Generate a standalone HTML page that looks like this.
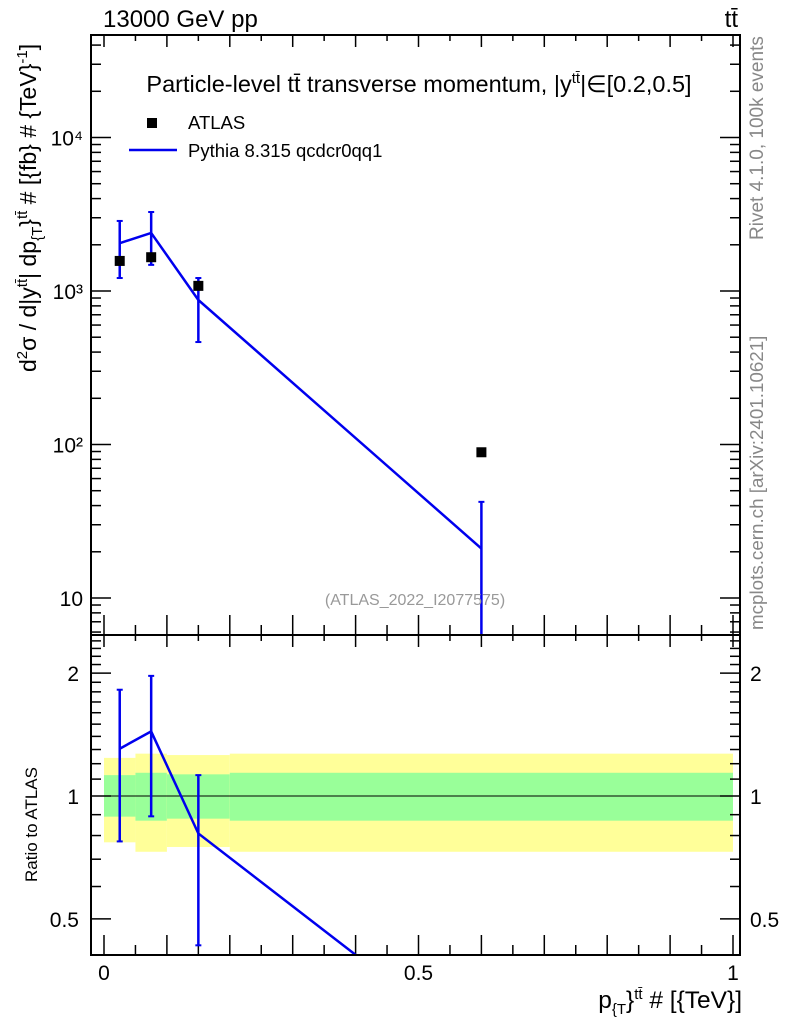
<!DOCTYPE html>
<html><head><meta charset="utf-8"><style>
body{margin:0;background:#fff;}
svg{display:block;font-family:"Liberation Sans",sans-serif;}
</style></head><body>
<svg id="c" width="786" height="1024" viewBox="0 0 786 1024" xmlns="http://www.w3.org/2000/svg">
<g id="bands"></g><g id="grid"></g><g id="marks"></g>
<rect x="91" y="35" width="649" height="600" fill="none" stroke="#000" stroke-width="2"/>
<rect x="91" y="635" width="649" height="320" fill="none" stroke="#000" stroke-width="2"/>
<text x="103" y="27" font-size="24">13000 GeV pp</text>
<text x="738" y="27" font-size="24" text-anchor="end">tt̄</text>
<text x="419" y="92" font-size="23.5" text-anchor="middle">Particle-level tt̄ transverse momentum, |y<tspan font-size="15" dy="-9">tt̄</tspan><tspan dy="9">|∈[0.2,0.5]</tspan></text>
<rect x="147" y="118" width="10" height="10" fill="#000"/>
<text x="188" y="129" font-size="18.5">ATLAS</text>
<line x1="129" y1="150" x2="177" y2="150" stroke="#0000ee" stroke-width="2.5"/>
<text x="188" y="157" font-size="18.5">Pythia 8.315 qcdcr0qq1</text>
<text x="415" y="605" font-size="16" fill="#999" text-anchor="middle">(ATLAS_2022_I2077575)</text>
<text transform="translate(763,240) rotate(-90)" font-size="19" fill="#888">Rivet 4.1.0,  100k events</text>
<text transform="translate(763,630) rotate(-90)" font-size="18.8" fill="#888">mcplots.cern.ch [arXiv:2401.10621]</text>
<text transform="translate(36,372) rotate(-90)" font-size="23">d<tspan font-size="15" dy="-9">2</tspan><tspan dy="9">σ / d|y</tspan><tspan font-size="15" dy="-9">tt̄</tspan><tspan dy="9">| dp</tspan><tspan font-size="15" dy="6">{T</tspan><tspan dy="-6">}</tspan><tspan font-size="15" dy="-9">tt̄</tspan><tspan dy="9"> # [{fb} # {TeV}</tspan><tspan font-size="15" dy="-9">-1</tspan><tspan dy="9">]</tspan></text>
<text transform="translate(37,882) rotate(-90)" font-size="17">Ratio to ATLAS</text>
<text x="742" y="1008" font-size="24.5" text-anchor="end">p<tspan font-size="15" dy="6">{T</tspan><tspan dy="-6">}</tspan><tspan font-size="15" dy="-9">tt̄</tspan><tspan dy="9"> # [{TeV}]</tspan></text>
</svg>
<script>
const binEdges=[0,0.05,0.1,0.2,1.0];
const xCenters=[0.025,0.075,0.15,0.6];
const dataVals=[1570,1660,1080,89];
const mcVals=[2050,2390,874,21];
const mcErrUp=[2860,3270,1215,42.3];
const mcErrDn=[1215,1480,465,0.1];
const bandYelUp=[1.24,1.27,1.26,1.27];
const bandYelDn=[0.77,0.73,0.75,0.73];
const bandGrnUp=[1.125,1.14,1.13,1.14];
const bandGrnDn=[0.89,0.87,0.88,0.87];
const yMainTicks=[10,100,1000,10000];
const yMainLabels=["10","10²","10³","10⁴"];
const yRatioTicks=[0.5,1,2];
const xTickVals=[0,0.5,1];
const xTickLabels=["0","0.5","1"];

const NS="http://www.w3.org/2000/svg";
const X=v=>104+629*v;
const Y=v=>291-153.5*Math.log10(v/1000);
const R=v=>796-408*Math.log10(v);
const MT=35,MB=635,RT=635,RB=955,L=91,RG=740;
function el(tag,attrs,parent,txt){const e=document.createElementNS(NS,tag);for(const k in attrs)e.setAttribute(k,attrs[k]);if(txt!==undefined)e.textContent=txt;document.getElementById(parent).appendChild(e);return e;}
const clampM=y=>Math.max(MT,Math.min(MB,y));
const clampR=y=>Math.max(RT,Math.min(RB,y));

for(let i=0;i<4;i++){
 const x1=X(binEdges[i]),x2=X(binEdges[i+1]);
 let e=el('rect',{x:x1,y:R(bandYelUp[i]),width:x2-x1,height:R(bandYelDn[i])-R(bandYelUp[i]),fill:'#ffff99'},'bands');
 
 
 e=el('rect',{x:x1,y:R(bandGrnUp[i]),width:x2-x1,height:R(bandGrnDn[i])-R(bandGrnUp[i]),fill:'#99ff99'},'bands');
 
 
}
let ln=el('line',{x1:L,x2:RG,y1:R(1),y2:R(1),stroke:'#000','stroke-width':1},'bands');



for(let d=1;d<=4;d++){for(let m=1;m<=9;m++){const v=m*Math.pow(10,d);const y=Y(v);if(y<MT||y>MB)continue;const len=m===1?20:10;
 el('line',{x1:L,x2:L+len,y1:y,y2:y,stroke:'#000','stroke-width':1.5},'grid');
 el('line',{x1:RG-len,x2:RG,y1:y,y2:y,stroke:'#000','stroke-width':1.5},'grid');}}
[1,2,3,4,5,6,7,8,9].forEach(m=>{const y=Y(m);if(y>=MT&&y<=MB){el('line',{x1:L,x2:L+10,y1:y,y2:y,stroke:'#000','stroke-width':1.5},'grid');el('line',{x1:RG-10,x2:RG,y1:y,y2:y,stroke:'#000','stroke-width':1.5},'grid');}});
yMainTicks.forEach((v,i)=>{const t=el('text',{x:83,y:Y(v)+8,'font-size':21,'text-anchor':'end'},'grid',yMainLabels[i]);
 
 });
for(let v=0.4;v<=2.5;v=Math.round((v+0.1)*10)/10){const y=R(v);if(y<RT||y>RB)continue;const maj=yRatioTicks.includes(v);const len=maj?20:10;
 el('line',{x1:L,x2:L+len,y1:y,y2:y,stroke:'#000','stroke-width':1.5},'grid');
 el('line',{x1:RG-len,x2:RG,y1:y,y2:y,stroke:'#000','stroke-width':1.5},'grid');}
yRatioTicks.forEach(v=>{let t=el('text',{x:79,y:R(v)+8,'font-size':21,'text-anchor':'end'},'grid',String(v));
 
 
 t=el('text',{x:750,y:R(v)+8,'font-size':21},'grid',String(v));
 
 });
for(let k=0;k<=20;k++){const v=k*0.05;const x=X(v);const len=(k%2===0)?20:10;
 [[MT,1],[MB,-1],[RT,1],[RB,-1]].forEach(([y0,s])=>el('line',{x1:x,x2:x,y1:y0,y2:y0+s*(s>0?len*0.6:len),stroke:'#000','stroke-width':1.5},'grid'));}
xTickVals.forEach((v,i)=>{const t=el('text',{x:X(v),y:980,'font-size':21,'text-anchor':'middle'},'grid',xTickLabels[i]);
 
 });

let p=el('polyline',{points:xCenters.map((x,i)=>X(x)+','+Y(mcVals[i])).join(' '),fill:'none',stroke:'#0000ee','stroke-width':2.5},'marks');


xCenters.forEach((x,i)=>{const y1=clampM(Y(mcErrUp[i])),y2=clampM(Y(mcErrDn[i]));
 const e=el('line',{x1:X(x),x2:X(x),y1:y1,y2:y2,stroke:'#0000ee','stroke-width':2.5},'marks');
 
 
 [y1,y2].forEach(y=>{if(y>MT&&y<MB)el('line',{x1:X(x)-3,x2:X(x)+3,y1:y,y2:y,stroke:'#0000ee','stroke-width':2},'marks');});
 const r=el('rect',{x:X(x)-5,y:Y(dataVals[i])-5,width:10,height:10,fill:'#000'},'marks');
 
 });
const rl=document.createElementNS(NS,'clipPath');rl.setAttribute('id','rc');const cr=document.createElementNS(NS,'rect');
cr.setAttribute('x',L);cr.setAttribute('y',RT);cr.setAttribute('width',RG-L);cr.setAttribute('height',RB-RT);rl.appendChild(cr);document.getElementById('c').appendChild(rl);
p=el('polyline',{points:xCenters.map((x,i)=>X(x)+','+R(mcVals[i]/dataVals[i])).join(' '),fill:'none',stroke:'#0000ee','stroke-width':2.5,'clip-path':'url(#rc)'},'marks');


xCenters.forEach((x,i)=>{const yc=R(mcVals[i]/dataVals[i]);if(yc>RB||yc<RT)return;
 const y1=clampR(R(mcErrUp[i]/dataVals[i])),y2=clampR(R(mcErrDn[i]/dataVals[i]));
 const e=el('line',{x1:X(x),x2:X(x),y1:y1,y2:y2,stroke:'#0000ee','stroke-width':2.5},'marks');
 
 
 [y1,y2].forEach(y=>{if(y>RT&&y<RB)el('line',{x1:X(x)-3,x2:X(x)+3,y1:y,y2:y,stroke:'#0000ee','stroke-width':2},'marks');});});
</script>
</body></html>
